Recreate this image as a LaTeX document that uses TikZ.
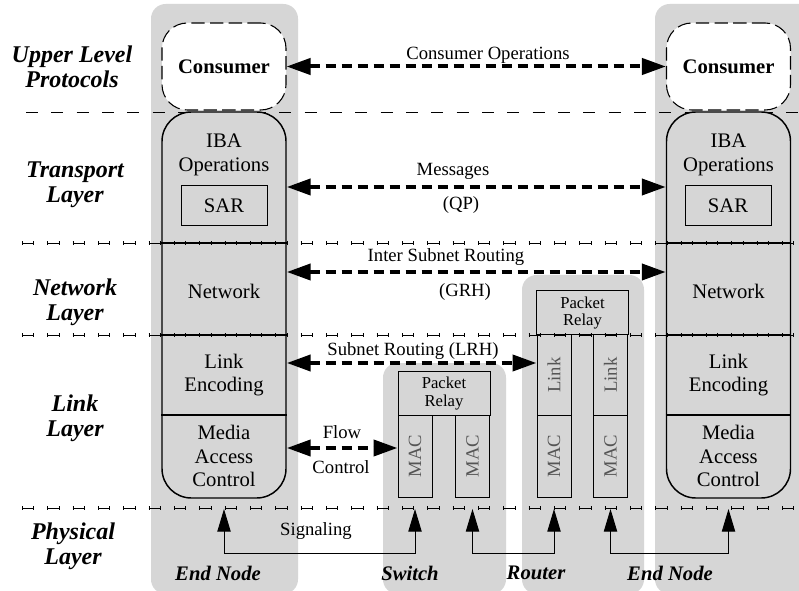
\documentclass[tikz,border=0pt]{standalone}
\usepackage{fontspec}
\setmainfont{Liberation Serif}
\usetikzlibrary{arrows.meta}
\definecolor{colg}{RGB}{214,214,214}
\definecolor{txtg}{RGB}{85,85,85}
\begin{document}
\begin{tikzpicture}[x=0.75pt,y=-0.75pt,
  column/.style={fill=colg, rounded corners=11pt},
  stackbox/.style={draw, line width=1.1pt, fill=colg, rounded corners=22pt, minimum width=93pt, minimum height=289.5pt, inner sep=0pt},
  consbox/.style={draw, line width=0.8pt, dash pattern=on 10pt off 4pt, fill=white, rounded corners=19pt, minimum width=93pt, minimum height=65.25pt, inner sep=0pt, font=\fontsize{15.5}{17}\selectfont\bfseries},
  boxtext/.style={align=center, inner sep=0pt, font=\fontsize{15.5}{17.5}\selectfont},
  sarbox/.style={draw, line width=0.75pt, minimum width=64.5pt, minimum height=30pt, inner sep=0pt, font=\fontsize{15.5}{17.5}\selectfont},
  relaybox/.style={draw, line width=0.75pt, minimum width=69pt, minimum height=32.5pt, inner sep=0pt, align=center, font=\fontsize{12.5}{13}\selectfont},
  vbox/.style={draw, line width=0.75pt, minimum width=25.5pt, inner sep=0pt, text=txtg, font=\fontsize{14}{16}\selectfont},
  arrowlabel/.style={inner sep=0pt, align=center, font=\fontsize{14}{16}\selectfont},
  layerlabel/.style={inner sep=0pt, align=center, font=\fontsize{18}{19}\selectfont\bfseries\itshape},
  devlabel/.style={inner sep=0pt, font=\fontsize{15.5}{17}\selectfont\bfseries\itshape},
  plainlayer/.style={line width=0.6pt, dash pattern=on 9pt off 10pt},
  tickline/.style={line width=3pt, dash pattern=on 0.6pt off 7.8pt on 0.6pt off 10pt},
  bigarrow/.style={line width=3pt, dash pattern=on 7.5pt off 4.5pt, {Triangle[length=18pt,width=12pt]}-{Triangle[length=18pt,width=12pt]}},
  sigarrow/.style={line width=0.75pt, {Triangle[length=17pt,width=10pt]}-{Triangle[length=17pt,width=10pt]}}
]
\clip (0,0) rectangle (799,591);
\fill[white] (0,0) rectangle (799,591);
% gray device columns
\fill[column] (151,4) rectangle (298,594);
\fill[column] (383,363) rectangle (506,594);
\fill[column] (522,275) rectangle (644,594);
\fill[column] (655,4) rectangle (815,594);
% layer separators
\draw[plainlayer] (26,112) -- (799,112);
\foreach \yy in {243,335,508} {
  \draw[plainlayer] (22,\yy) -- (799,\yy);
}
% end node stacks
\node[stackbox] (lstack) at (224,305) {};
\node[stackbox] (rstack) at (728.5,305) {};
\foreach \st in {lstack,rstack} {
  \foreach \yy in {243,335,415} {
    \draw[line width=0.9pt] (\st.west |- 0,\yy) -- (\st.east |- 0,\yy);
  }
}
\node[consbox] (lcons) at (224,66.5) {Consumer};
\node[consbox] (rcons) at (728.5,66.5) {Consumer};
% stack texts
\node[boxtext] (liba) at (224,155) {IBA\\Operations};
\node[sarbox] (lsar) at (224,206) {SAR};
\node[boxtext] (lnet) at (224,291) {Network};
\node[boxtext] (llink) at (224,375) {Link\\Encoding};
\node[boxtext] (lmac) at (224,456) {Media\\Access\\Control};
\node[boxtext] (riba) at (728.5,155) {IBA\\Operations};
\node[sarbox] (rsar) at (728,206) {SAR};
\node[boxtext] (rnet) at (728.5,291) {Network};
\node[boxtext] (rlink) at (728.5,375) {Link\\Encoding};
\node[boxtext] (rmac) at (728.5,456) {Media\\Access\\Control};
% switch
\node[relaybox] (swpr) at (444,393.5) {Packet\\Relay};
\node[vbox, minimum height=61.5pt] (swmac1) at (415,456) {\rotatebox{90}{MAC}};
\node[vbox, minimum height=61.5pt] (swmac2) at (472.5,456) {\rotatebox{90}{MAC}};
% router
\node[relaybox, minimum height=33pt] (rtpr) at (582.5,313) {Packet\\Relay};
\node[vbox, minimum height=60pt] (rtlink1) at (554,375) {\rotatebox{90}{Link}};
\node[vbox, minimum height=60pt] (rtlink2) at (610.5,375) {\rotatebox{90}{Link}};
\node[vbox, minimum height=61.5pt] (rtmac1) at (554,456) {\rotatebox{90}{MAC}};
\node[vbox, minimum height=61.5pt] (rtmac2) at (610.5,456) {\rotatebox{90}{MAC}};
% ticks on layer separators
\foreach \yy in {243,335,508} {
  \draw[tickline] (22,\yy) -- (799,\yy);
}
% peer arrows
\draw[bigarrow] (lcons.east) -- (rcons.west);
\draw[bigarrow] (lstack.east |- 0,187) -- (rstack.west |- 0,187);
\draw[bigarrow] (lstack.east |- 0,272) -- (rstack.west |- 0,272);
\draw[bigarrow] (lstack.east |- 0,363) -- (rtlink1.west |- 0,363);
\draw[bigarrow] (lstack.east |- 0,448) -- (swmac1.west |- 0,448);
\node[arrowlabel] (lco) at (488,55) {Consumer Operations};
\node[arrowlabel] (lmsg) at (453,171) {Messages};
\node[arrowlabel] (lqp) at (461,205) {(QP)};
\node[arrowlabel] (lisr) at (446,257) {Inter Subnet Routing};
\node[arrowlabel] (lgrh) at (465,292) {(GRH)};
\node[arrowlabel] (lsr) at (413,351) {Subnet Routing (LRH)};
\node[arrowlabel] (lflow) at (342,432) {Flow};
\node[arrowlabel] (lctl) at (341,467) {Control};
% physical signaling
\draw[sigarrow] (lstack.south |- 0,509) -- (lstack.south |- 0,553) -- (swmac1.south |- 0,553) -- (swmac1.south |- 0,509);
\draw[sigarrow] (swmac2.south |- 0,509) -- (swmac2.south |- 0,553) -- (rtmac1.south |- 0,553) -- (rtmac1.south |- 0,509);
\draw[sigarrow] (rtmac2.south |- 0,509) -- (rtmac2.south |- 0,553) -- (rstack.south |- 0,553) -- (rstack.south |- 0,509);
\node[arrowlabel] (lsig) at (316,531) {Signaling};
% layer labels
\node[layerlabel] (lyupper) at (72,67) {Upper Level\\Protocols};
\node[layerlabel] (lytrans) at (75,185) {Transport\\Layer};
\node[layerlabel] (lynet) at (75,302) {Network\\Layer};
\node[layerlabel] (lylink) at (75,418) {Link\\Layer};
\node[layerlabel] (lyphys) at (73,546) {Physical\\Layer};
% device labels
\node[devlabel] (dend1) at (218,573) {End Node};
\node[devlabel] (dsw) at (410,573) {Switch};
\node[devlabel] (drt) at (536,573) {Router};
\node[devlabel] (dend2) at (670,573) {End Node};
\end{tikzpicture}
\end{document}
